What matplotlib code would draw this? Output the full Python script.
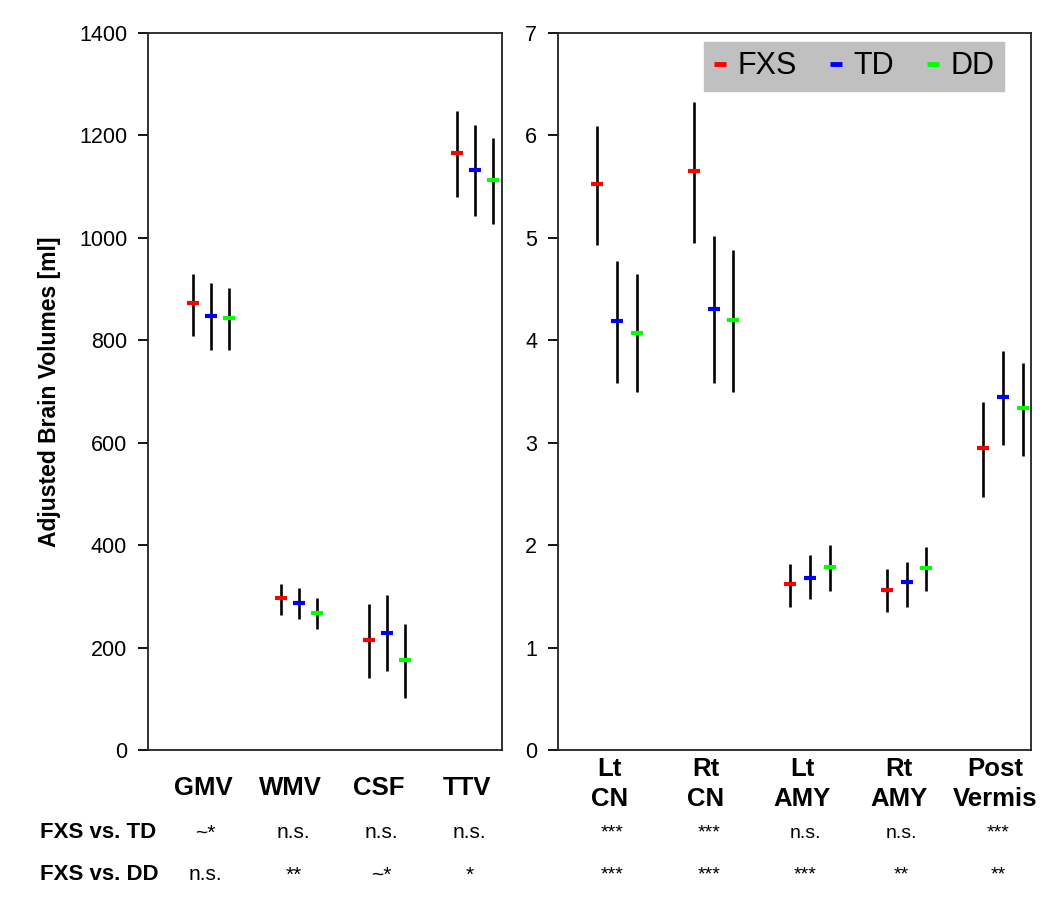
import numpy as np
import matplotlib
matplotlib.use("Agg")
import matplotlib.pyplot as plt
import matplotlib.transforms as mtransforms
from matplotlib.lines import Line2D

plt.rcParams['font.family'] = ['Liberation Sans', 'DejaVu Sans']

groups = ['FXS', 'TD', 'DD']
colors = ['#ff0000', '#0000ff', '#00ff00']

# left panel: whole-brain volumes [ml]
left_cats = ['GMV', 'WMV', 'CSF', 'TTV']
left_mean = {'FXS': [873, 297, 214, 1165],
             'TD':  [848, 288, 228, 1133],
             'DD':  [843, 268, 176, 1112]}
left_lo = {'FXS': [808, 264, 141, 1080],
           'TD':  [782, 256, 154, 1043],
           'DD':  [782, 236, 102, 1028]}
left_hi = {'FXS': [930, 324, 286, 1248],
           'TD':  [912, 316, 302, 1220],
           'DD':  [903, 296, 247, 1195]}

# right panel: regional volumes
right_cats = ['Lt\nCN', 'Rt\nCN', 'Lt\nAMY', 'Rt\nAMY', 'Post\nVermis']
right_mean = {'FXS': [5.53, 5.65, 1.62, 1.56, 2.95],
              'TD':  [4.19, 4.31, 1.68, 1.64, 3.45],
              'DD':  [4.07, 4.20, 1.79, 1.78, 3.34]}
right_lo = {'FXS': [4.93, 4.95, 1.40, 1.35, 2.47],
            'TD':  [3.58, 3.58, 1.47, 1.40, 2.98],
            'DD':  [3.50, 3.50, 1.55, 1.55, 2.87]}
right_hi = {'FXS': [6.09, 6.33, 1.82, 1.77, 3.40],
            'TD':  [4.77, 5.02, 1.90, 1.84, 3.90],
            'DD':  [4.65, 4.88, 2.00, 1.98, 3.78]}

row_labels = ['FXS vs. TD', 'FXS vs. DD']
sig_left = [['~*', 'n.s.', 'n.s.', 'n.s.'],
            ['n.s.', '**', '~*', '*']]
sig_right = [['***', '***', 'n.s.', 'n.s.', '***'],
             ['***', '***', '***', '**', '**']]

fig = plt.figure(figsize=(10.5, 9), dpi=100)
ax1 = fig.add_axes([148 / 1050, 150 / 900, 354 / 1050, 717 / 900])
ax2 = fig.add_axes([558 / 1050, 150 / 900, 473 / 1050, 717 / 900])

offsets = [-0.205, 0.0, 0.205]


def draw(ax, cats, mean, lo, hi, pad):
    x = np.arange(1, len(cats) + 1)
    for g, c, off in zip(groups, colors, offsets):
        m = np.array(mean[g])
        err = [m - np.array(lo[g]), np.array(hi[g]) - m]
        ax.errorbar(x + off, m, yerr=err, fmt='none', ecolor='black',
                    elinewidth=1.9, capsize=0, zorder=2)
        ax.plot(x + off, m, linestyle='none', marker='_', markersize=9,
                markeredgewidth=3, color=c, zorder=3)
    ax.set_xticks(x)
    ax.set_xticklabels(cats, fontsize=18.5, fontweight='bold', linespacing=1.3)
    ax.tick_params(axis='x', length=0, pad=pad)
    ax.tick_params(axis='y', direction='out', length=7, width=1.3,
                   labelsize=15.5, pad=8)
    for sp in ax.spines.values():
        sp.set_linewidth(1.3)
        sp.set_color('#222222')
    shift = mtransforms.ScaledTranslation(-8 / 100, 0, fig.dpi_scale_trans)
    for lab in ax.get_xticklabels():
        lab.set_transform(lab.get_transform() + shift)
    return x


xl = draw(ax1, left_cats, left_mean, left_lo, left_hi, 19)
ax1.set_xlim(0.284, 4.31)
ax1.set_ylim(0, 1400)
ax1.set_yticks(np.arange(0, 1401, 200))
ax1.set_ylabel('Adjusted Brain Volumes [ml]', fontsize=16.5, fontweight='bold',
               labelpad=13)

xr = draw(ax2, right_cats, right_mean, right_lo, right_hi, 5)
ax2.set_xlim(0.387, 5.29)
ax2.set_ylim(0, 7)
ax2.set_yticks(np.arange(0, 8, 1))

handles = [Line2D([], [], linestyle='none', marker='_', markersize=9,
                  markeredgewidth=3.5, color=c) for c in colors]
leg = ax2.legend(handles, groups, ncol=3, loc='upper right',
                 bbox_to_anchor=(0.943, 0.987), borderaxespad=0,
                 fontsize=22, frameon=True, fancybox=False,
                 handlelength=0.45, handletextpad=0.35, columnspacing=1.05,
                 borderpad=0.3)
leg.get_frame().set_facecolor('#c0c0c0')
leg.get_frame().set_edgecolor('#c0c0c0')
leg.get_frame().set_alpha(1)

# significance rows under the panels
row_y = [1 - 833 / 900, 1 - 875 / 900]
for r, yy in enumerate(row_y):
    fig.text(40 / 1050, yy, row_labels[r], fontsize=16, fontweight='bold',
             ha='left', va='center')
    tl = mtransforms.blended_transform_factory(ax1.transData, fig.transFigure)
    for xi, s in zip(xl, sig_left[r]):
        ax1.text(xi - 0.06, yy, s, transform=tl, ha='center', va='center',
                 fontsize=15, clip_on=False)
    tr = mtransforms.blended_transform_factory(ax2.transData, fig.transFigure)
    for xi, s in zip(xr, sig_right[r]):
        ax2.text(xi - 0.05, yy, s, transform=tr, ha='center', va='center',
                 fontsize=14, clip_on=False)

fig.savefig('out.png', dpi=100)
